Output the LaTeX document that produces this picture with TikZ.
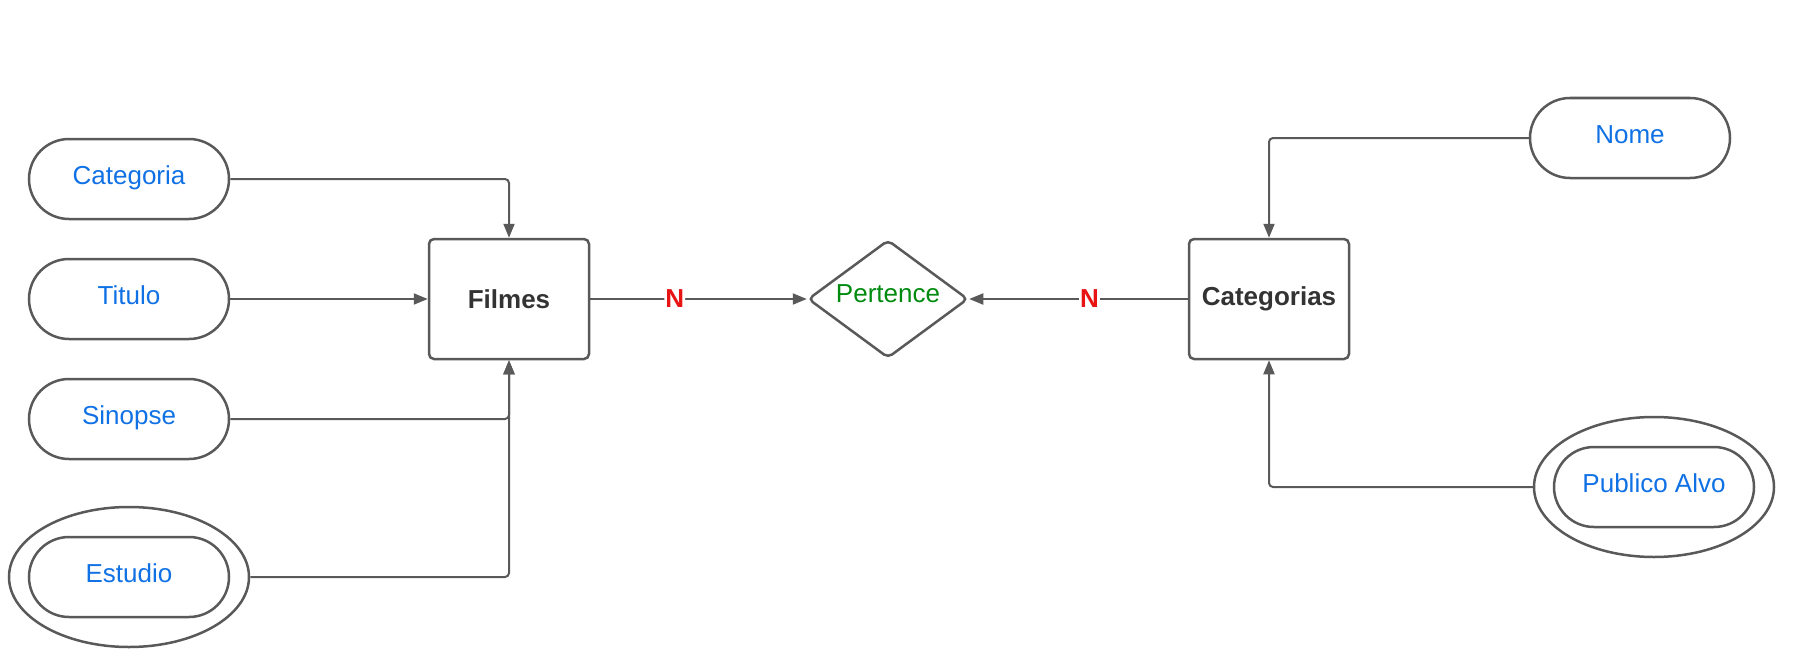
\documentclass[tikz,border=0pt]{standalone}
\usepackage{fontspec}
\setmainfont{Liberation Sans}
\usetikzlibrary{arrows.meta,shapes.geometric}
\definecolor{linec}{HTML}{595959}
\definecolor{attrc}{HTML}{1071E5}
\definecolor{relc}{HTML}{008A0E}
\definecolor{cardc}{HTML}{E81313}
\definecolor{entc}{HTML}{333333}
\begin{document}
\begin{tikzpicture}[x=1pt,y=-1pt, font=\fontsize{26}{30}\selectfont,
  attr/.style={draw=linec, line width=2.5pt, rounded corners=40pt, minimum width=200pt, minimum height=80pt, text=attrc, inner sep=0pt, text height=1.04em, text depth=0pt},
  outer/.style={draw=linec, line width=2.5pt, ellipse, minimum width=240pt, minimum height=140pt, inner sep=0pt},
  entity/.style={draw=linec, line width=2.5pt, rounded corners=5pt, minimum width=160pt, minimum height=120pt, text=entc, font=\fontsize{26}{30}\selectfont\bfseries, inner sep=0pt},
  rel/.style={draw=linec, diamond, line width=2.5pt, rounded corners=5pt, minimum width=160pt, minimum height=118pt, text=relc, inner sep=0pt, text height=0.72em, text depth=0.1em},
  conn/.style={draw=linec, line width=2pt, rounded corners=4pt, -{Triangle[length=14pt,width=11pt]}},
  card/.style={fill=white, text=cardc, font=\fontsize{26}{30}\selectfont\bfseries, inner sep=1pt}]
\useasboundingbox (0,0) rectangle (1816,669);
\node[outer] (estO) at (129,577) {};
\node[attr] (est) at (129,577) {Estudio};
\node[attr] (cat) at (129,179) {Categoria};
\node[attr] (tit) at (129,299) {Titulo};
\node[attr] (sin) at (129,419) {Sinopse};
\node[entity] (fil) at (509,299) {Filmes};
\node[rel] (per) at (888,299) {Pertence};
\node[entity] (cats) at (1269,299) {Categorias};
\node[attr] (nom) at (1630,138) {Nome};
\node[outer] (pubO) at (1654,487) {};
\node[attr] (pub) at (1654,487) {Publico Alvo};
\draw[conn] (cat.east) -| (fil.north);
\draw[conn] (tit.east) -- (fil.west);
\draw[conn] (sin.east) -| (fil.south);
\draw[conn] (estO.east) -| (fil.south);
\draw[conn] (fil.east) -- node[card, pos=0.39] {N} (per.west);
\draw[conn] (cats.west) -- node[card, pos=0.45] {N} (per.east);
\draw[conn] (nom.west) -| (cats.north);
\draw[conn] (pubO.west) -| (cats.south);
\end{tikzpicture}
\end{document}
